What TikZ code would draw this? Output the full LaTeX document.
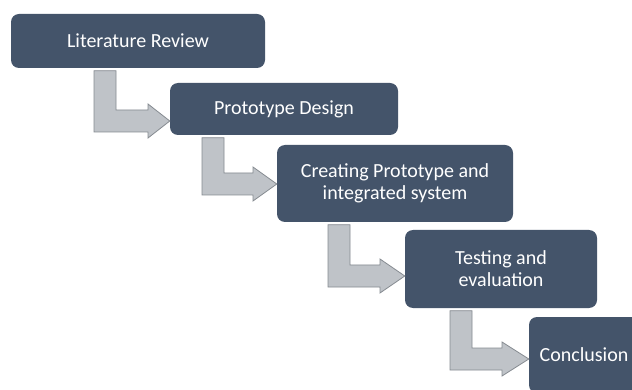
\documentclass[tikz,border=0pt]{standalone}
\usepackage{fontspec}
\setmainfont{Carlito}
\usetikzlibrary{calc}
\definecolor{boxfill}{HTML}{44546A}
\definecolor{arrowfill}{HTML}{BFC3C8}
\definecolor{arrowline}{HTML}{868B91}
\tikzset{
  stage/.style={rectangle, rounded corners=8pt, fill=boxfill, text=white,
    font=\fontsize{20}{22}\selectfont, align=center, inner sep=0pt},
  flowarrow/.style={fill=arrowfill, draw=arrowline, line width=0.8pt, line join=miter}
}
% bent block arrow: from node, to node, stem left x, arm centre y, head base x
\newcommand\flowstep[5]{%
  \draw[flowarrow] let \p1=(#1.south), \p2=(#2.west) in
    (#3pt,\y1-2.5pt) -- (#3pt+22pt,\y1-2.5pt) -- (#3pt+22pt,-#4pt+11pt)
    -- (#5pt,-#4pt+11pt) -- (#5pt,-#4pt+17pt) -- (\x2,-#4pt)
    -- (#5pt,-#4pt-17pt) -- (#5pt,-#4pt-11pt) -- (#3pt,-#4pt-11pt) -- cycle;}
\begin{document}
\begin{tikzpicture}[x=1pt,y=-1pt]
  \useasboundingbox (0,0) rectangle (632,390);
  \fill[white] (0,0) rectangle (632,390);
  \clip (0,0) rectangle (632,390);
  \node[stage, minimum width=254pt, minimum height=54pt] (lit) at (138,41) {Literature Review};
  \node[stage, minimum width=228pt, minimum height=52pt] (proto) at (284,109) {Prototype Design};
  \node[stage, minimum width=236pt, minimum height=77pt] (create) at (395,183.5) {Creating Prototype and\\integrated system};
  \node[stage, minimum width=192pt, minimum height=78pt] (test) at (501,269) {Testing and\\evaluation};
  \node[stage, minimum width=110pt, minimum height=76pt] (concl) at (584,355) {Conclusion};
  \flowstep{lit}{proto}{94}{121}{148}
  \flowstep{proto}{create}{202}{184}{253}
  \flowstep{create}{test}{328}{276}{380}
  \flowstep{test}{concl}{450}{359}{502}
\end{tikzpicture}
\end{document}
